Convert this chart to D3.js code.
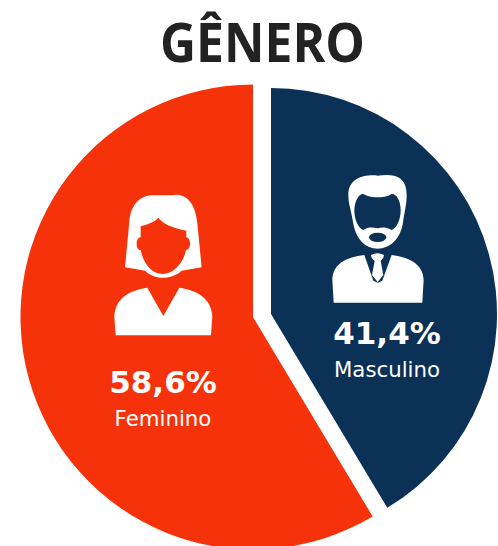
<!DOCTYPE html>
<html>
<head>
<meta charset="utf-8">
<script src="https://cdn.jsdelivr.net/npm/d3@7"></script>
<style>
    html, body { margin: 0; padding: 0; background: #fff; overflow: hidden; }
</style>
</head>
<body>
<div id="chart"></div>
<script>
let categories = ['Masculino', 'Feminino'];
let percentages = [41.4, 58.6];
let sliceColors = ['#0b3156', '#f6320a'];
let chartTitle = 'GÊNERO';

let width = 498;
let height = 546;

let svg = d3.select('#chart').append('svg')
    .attr('width', width)
    .attr('height', height)
    .style('display', 'block');

// title font is narrower than Open Sans, so squeeze it to the same width
svg.append('text')
    .attr('x', 262.5)
    .attr('y', 62)
    .attr('text-anchor', 'middle')
    .attr('textLength', 205)
    .attr('lengthAdjust', 'spacingAndGlyphs')
    .style('font-family', '"Open Sans", sans-serif')
    .style('font-weight', 700)
    .style('font-size', '53px')
    .style('fill', '#222222')
    .text(chartTitle);

// each slice is pulled out a bit, so it has its own centre and radius
let sliceCenters = [[271, 314], [253, 317]];
let sliceRadius = [226, 232.5];
let labelPos = [[387, 344], [163, 393]];

let pie = d3.pie().sort(null).value(d => d);
let arc = d3.arc().innerRadius(0);

let slices = svg.selectAll('g.slice')
    .data(pie(percentages))
    .enter().append('g')
    .attr('class', 'slice');

slices.append('path')
    .attr('transform', (d, i) => 'translate(' + sliceCenters[i] + ')')
    .attr('fill', (d, i) => sliceColors[i])
    .attr('d', (d, i) => arc.outerRadius(sliceRadius[i])(d));

slices.append('text')
    .attr('x', (d, i) => labelPos[i][0])
    .attr('y', (d, i) => labelPos[i][1])
    .attr('text-anchor', 'middle')
    .style('font-family', '"DejaVu Sans", sans-serif')
    .style('font-weight', 700)
    .style('font-size', '31px')
    .style('fill', '#fff')
    .text(d => d.value.toFixed(1).replace('.', ',') + '%');

slices.append('text')
    .attr('x', (d, i) => labelPos[i][0])
    .attr('y', (d, i) => labelPos[i][1] + 32.5)
    .attr('text-anchor', 'middle')
    .style('font-family', '"DejaVu Sans", sans-serif')
    .style('font-size', '21.3px')
    .style('fill', '#fff')
    .text((d, i) => categories[i]);

// woman icon
let woman = svg.append('g').attr('transform', 'translate(90,180) scale(0.3333)');
woman.append('path').attr('fill', '#fff')
    .attr('d', 'M105,262 L118,125 C122,75 150,47 185,46 C205,44 235,48 262,44 C300,47 318,85 322,130 L335,262 L275,272 C262,285 240,293 218,293 C197,293 178,285 165,272 Z');
woman.append('path').attr('fill', sliceColors[1])
    .attr('d', 'M152,138 C175,133 195,125 205,113 C215,130 250,145 289,152 L289,172 C303,172 305,210 288,210 C280,250 250,282 218,282 C185,282 160,250 152,210 C136,210 136,172 152,172 Z');
woman.append('path').attr('fill', '#fff')
    .attr('d', 'M172,323 L220,408 L268,323 C320,330 365,355 367,410 L363,466 L77,466 L73,410 C75,355 120,330 172,323 Z');

// man icon
let man = svg.append('g').attr('transform', 'translate(310,160) scale(0.3333)');
man.append('path').attr('fill', '#fff')
    .attr('d', 'M203,47 C240,43 290,40 290,105 C290,130 285,150 280,180 C275,235 240,266 203,266 C165,266 135,235 128,180 C123,150 115,130 115,105 C115,50 170,43 203,47 Z');
man.append('path').attr('fill', sliceColors[0])
    .attr('d', 'M133,150 C135,115 150,100 160,102 C175,110 190,112 203,112 C215,112 232,110 245,102 C258,100 272,120 272,150 C272,180 260,205 245,210 C225,200 215,202 203,205 C190,202 175,200 160,210 C145,205 133,180 133,150 Z');
man.append('ellipse').attr('fill', sliceColors[0])
    .attr('cx', 203).attr('cy', 232).attr('rx', 26).attr('ry', 14);
man.append('path').attr('fill', '#fff')
    .attr('d', 'M163,285 C110,292 68,310 67,360 L71,428 L337,428 L341,360 C340,310 295,292 245,285 L217,362 L203,368 L190,362 Z');
man.append('path').attr('fill', '#fff')
    .attr('d', 'M183,285 Q203,275 222,285 Q222,295 212,303 L220,345 L203,366 L186,345 L194,303 Q183,295 183,285 Z');
</script>
</body>
</html>
